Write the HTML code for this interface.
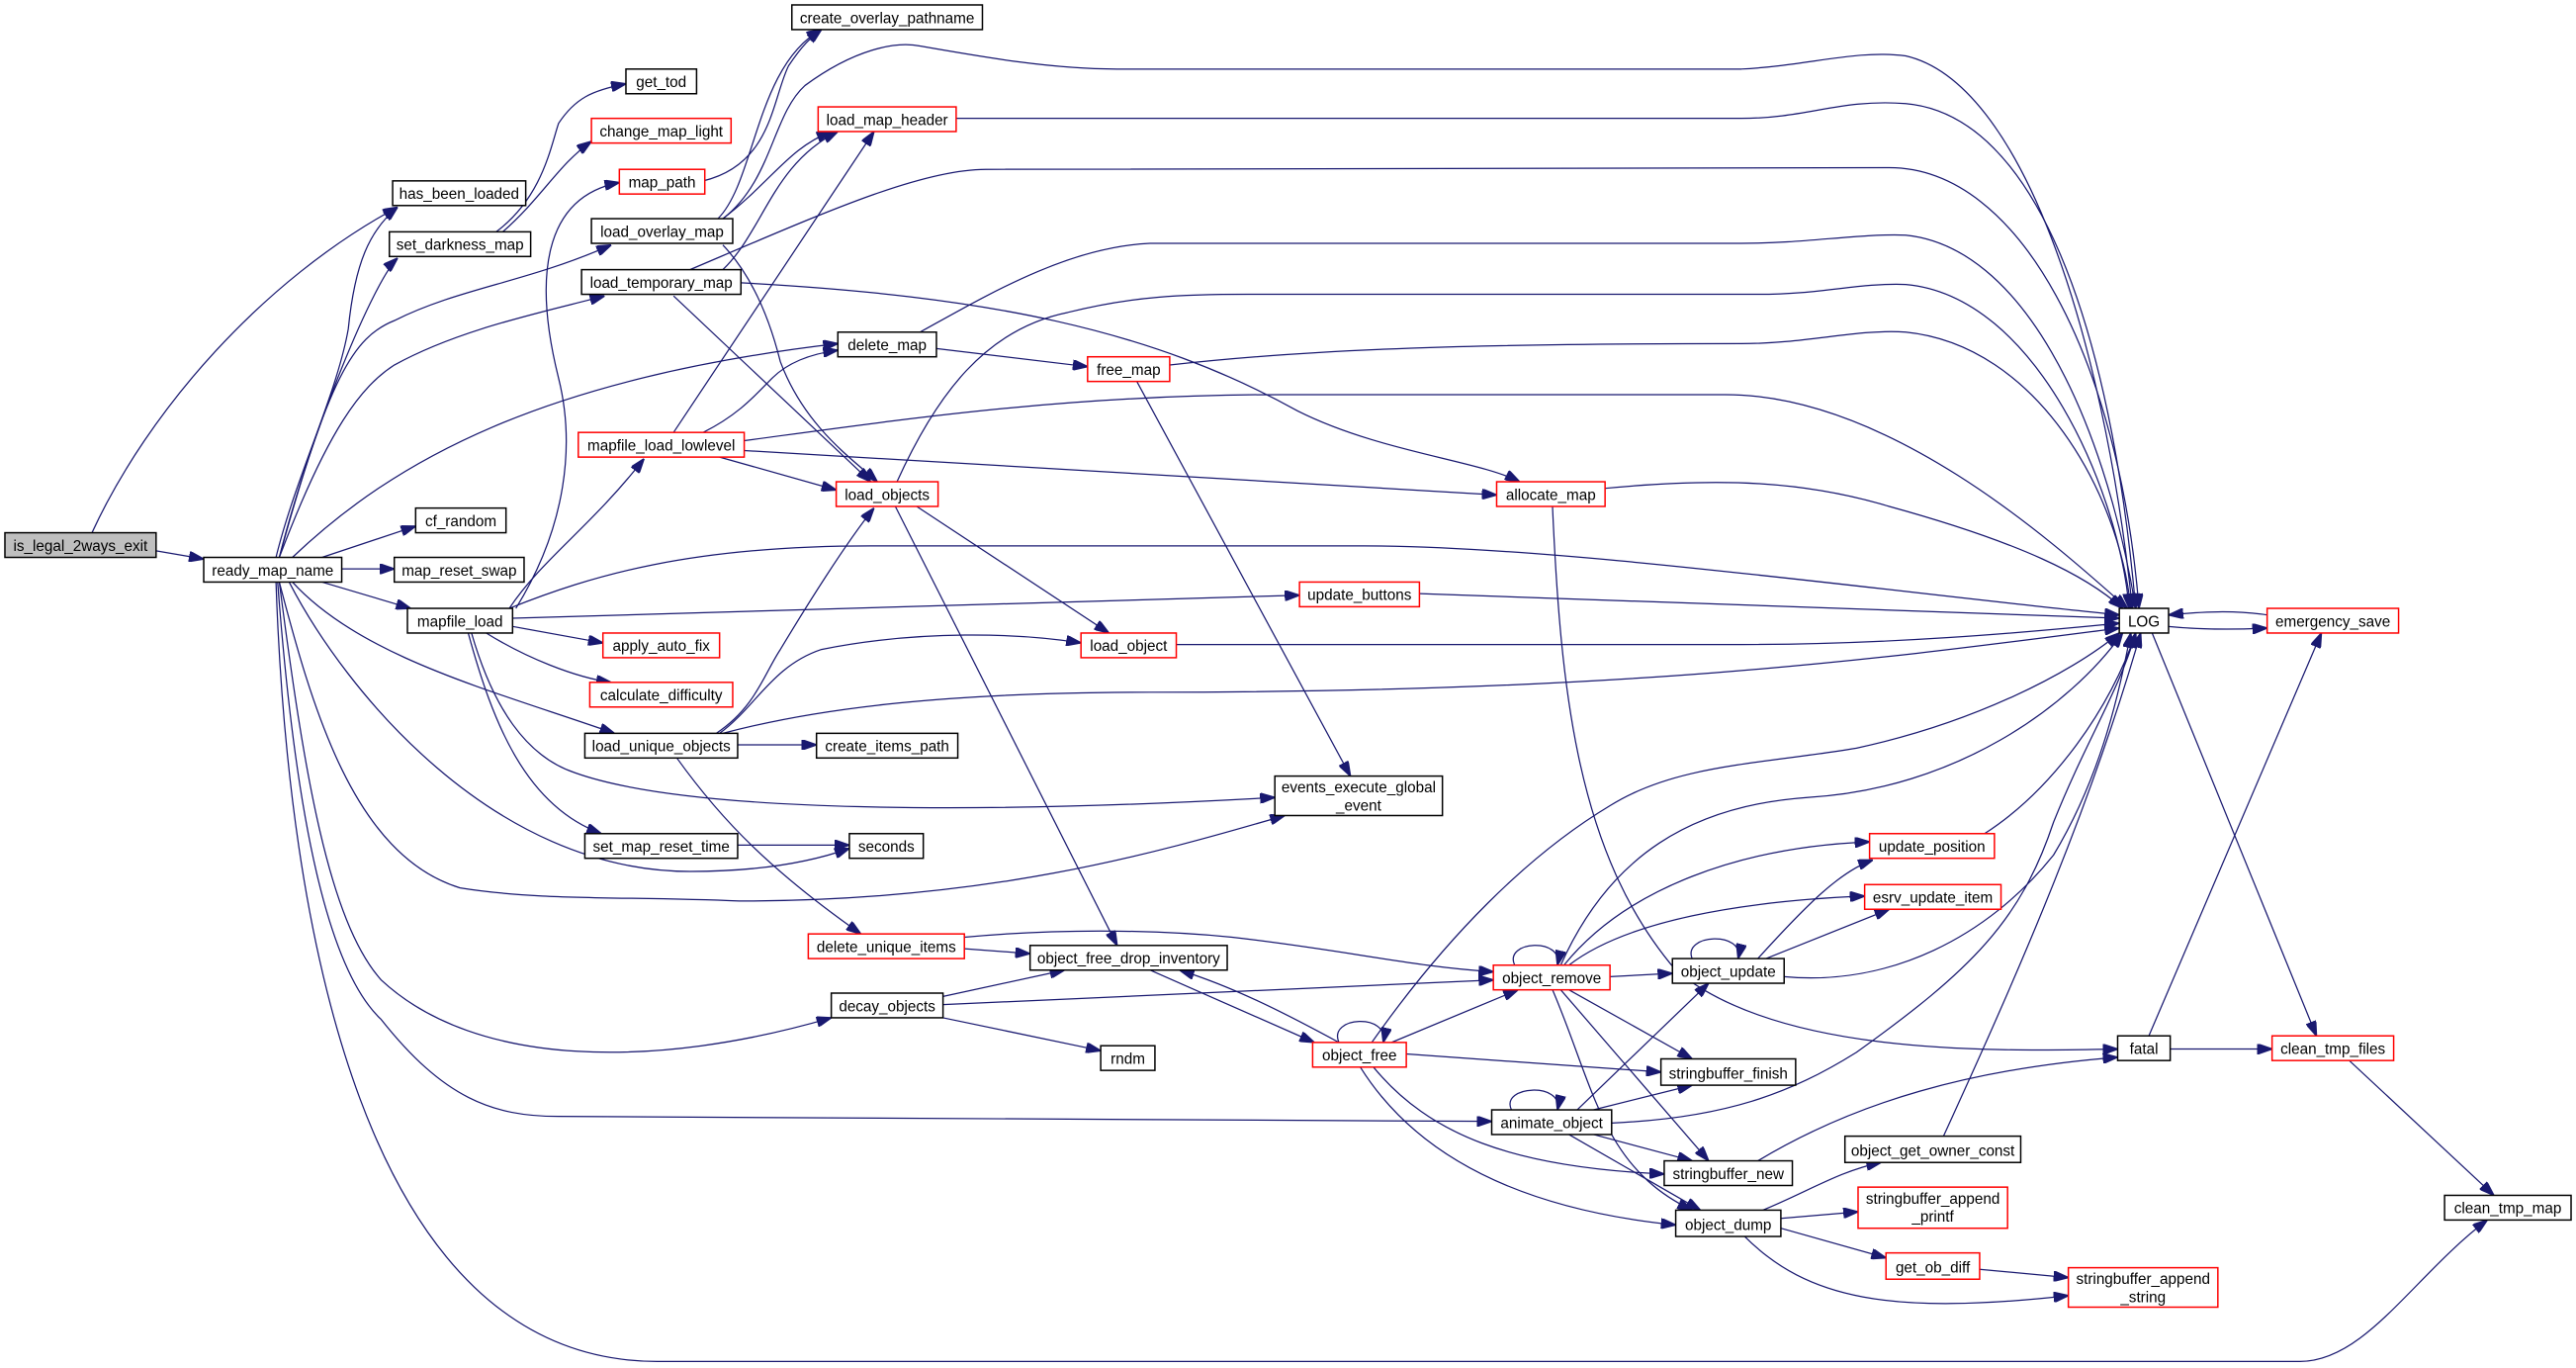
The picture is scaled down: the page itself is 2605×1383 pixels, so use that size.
<!DOCTYPE html>
<html><head><meta charset="utf-8"><style>
html,body{margin:0;padding:0;background:#fff;}
svg{display:block}
text{font-family:"Liberation Sans",sans-serif;font-size:9.2px;fill:#000}
.e{fill:none;stroke:#191970;stroke-width:0.75}
.n{fill:#fff;stroke:#000;stroke-width:0.9}
.r{fill:#fff;stroke:#ff0000;stroke-width:0.9}
</style></head><body>
<svg width="2605" height="1383" viewBox="0 0 1568 832" preserveAspectRatio="none" xmlns="http://www.w3.org/2000/svg">
<defs><marker id="a" viewBox="0 0 10 7" refX="10" refY="3.5" markerWidth="9" markerHeight="6.3" markerUnits="userSpaceOnUse" orient="auto"><path d="M0,0 L10,3.5 L0,7 z" fill="#191970" stroke="#191970"/></marker></defs>
<g class="e" marker-end="url(#a)">
<path d="M56,324 C90,250 160,170 242,126"/>
<path d="M95,335 L124,340"/>
<path d="M168,339 C180,290 205,240 212,200 C216,160 225,140 242,126"/>
<path d="M170,339 C190,260 228,170 242,157"/>
<path d="M170,339 C200,230 215,205 240,195 C280,175 320,172 372,149"/>
<path d="M170,339 C200,260 220,235 240,222 C280,200 330,190 368,180"/>
<path d="M178,339 C240,280 330,230 510,209"/>
<path d="M196,339 L253,320"/>
<path d="M208,346 L240,346"/>
<path d="M196,354 L250,370"/>
<path d="M178,354 C220,400 300,420 374,446"/>
<path d="M176,354 C210,420 300,530 420,530 C470,530 500,522 517,516"/>
<path d="M170,354 C190,430 215,520 280,540 C330,548 380,545 450,548 C600,548 700,520 782,496"/>
<path d="M170,354 C185,470 200,560 232,596 C290,650 400,650 506,619"/>
<path d="M169,354 C180,500 200,590 232,620 C270,668 300,679 340,679 L908,682"/>
<path d="M168,354 C175,560 220,828 400,828 L1400,828 C1440,828 1470,775 1514,742"/>
<path d="M310,370 C360,350 420,332 530,332 L830,332 C950,332 1150,360 1290,374"/>
<path d="M312,376 L791,362"/>
<path d="M310,370 C330,340 360,320 392,279"/>
<path d="M314,370 C345,320 350,270 340,230 C325,170 330,120 377,111"/>
<path d="M312,381 L367,391"/>
<path d="M296,385 C320,400 350,412 372,415"/>
<path d="M285,385 C300,440 320,490 366,507"/>
<path d="M287,385 C300,430 320,460 350,470 C420,495 600,495 776,485"/>
<path d="M449,453 L497,453"/>
<path d="M436,446 C460,430 465,410 475,395 C490,370 515,330 532,309"/>
<path d="M438,446 C460,430 470,405 500,395 C560,383 620,385 658,391"/>
<path d="M440,446 C500,430 580,421 700,421 C1000,421 1150,400 1290,382"/>
<path d="M412,461 C440,500 470,530 524,568"/>
<path d="M449,514 L517,514"/>
<path d="M437,133 C460,110 460,40 500,18"/>
<path d="M440,133 C470,110 480,90 506,80"/>
<path d="M440,133 C470,110 470,70 490,52 C520,30 545,25 560,28 C600,35 640,42 680,42 L1060,42 C1100,40 1130,30 1160,34 C1230,50 1280,200 1298,370"/>
<path d="M582,72 L1060,72 C1100,72 1120,60 1160,63 C1240,70 1285,200 1300,370"/>
<path d="M440,164 C465,140 470,100 510,80"/>
<path d="M420,164 C500,130 560,103 600,103 L1150,102 C1230,102 1290,220 1302,370"/>
<path d="M451,172 C600,180 700,200 790,250 C840,275 900,280 925,293"/>
<path d="M410,180 L530,293"/>
<path d="M440,149 C460,170 470,200 475,220 C490,260 520,280 534,293"/>
<path d="M410,263 L532,80"/>
<path d="M428,263 C450,252 460,240 470,230 C480,220 495,215 510,213"/>
<path d="M438,278 L509,298"/>
<path d="M453,268 C550,255 650,240 780,240 L1050,240 C1150,240 1250,330 1295,370"/>
<path d="M453,274 L911,301"/>
<path d="M560,202 C600,180 650,150 700,148 L1060,148 C1100,148 1130,142 1160,143 C1230,150 1280,250 1300,370"/>
<path d="M570,212 L662,223"/>
<path d="M712,222 C800,212 900,209 1060,209 C1100,209 1130,200 1160,202 C1240,210 1290,300 1297,370"/>
<path d="M692,232 L822,472"/>
<path d="M546,293 C570,240 600,200 650,190 C690,180 720,179 760,179 L1070,179 C1110,179 1130,172 1160,173 C1240,180 1290,300 1296,370"/>
<path d="M558,308 L675,385"/>
<path d="M545,308 L680,575"/>
<path d="M716,392 L1060,392 C1150,392 1230,385 1290,379"/>
<path d="M977,297 C1050,290 1100,293 1150,308 C1230,330 1270,350 1292,370"/>
<path d="M945,308 C950,420 960,520 1020,590 C1080,640 1200,640 1289,638"/>
<path d="M864,361 L1290,376"/>
<path d="M1380,374 C1360,371 1340,372 1320,374"/>
<path d="M1320,381 C1340,383 1360,383 1380,382"/>
<path d="M1310,385 L1410,630"/>
<path d="M1308,630 L1413,385"/>
<path d="M1321,638 L1383,638"/>
<path d="M1430,645 L1518,727"/>
<path d="M587,577 L627,580"/>
<path d="M587,570 C640,565 700,565 750,570 C820,578 860,588 909,591"/>
<path d="M574,606 L648,590"/>
<path d="M574,611 L909,596"/>
<path d="M574,619 L670,639"/>
<path d="M700,590 L800,634"/>
<path d="M815,634 C780,615 750,600 718,590"/>
<path d="M815,634 C808,618 846,616 842,634"/>
<path d="M847,634 L924,602"/>
<path d="M835,634 C880,570 930,520 980,490 C1020,465 1070,465 1130,455 C1200,440 1260,410 1290,385"/>
<path d="M856,641 L1011,652"/>
<path d="M836,649 C870,690 920,710 1013,714"/>
<path d="M828,649 C860,700 920,735 1020,745"/>
<path d="M922,587 C915,572 952,570 948,587"/>
<path d="M950,587 C980,520 1030,490 1100,485 C1190,480 1260,430 1292,385"/>
<path d="M952,587 C990,540 1060,515 1138,512"/>
<path d="M955,587 C990,560 1060,548 1135,545"/>
<path d="M980,594 L1018,592"/>
<path d="M955,602 L1030,644"/>
<path d="M950,602 L1040,706"/>
<path d="M945,602 C970,660 975,710 1030,736"/>
<path d="M1030,583 C1024,568 1062,566 1058,583"/>
<path d="M1070,583 C1100,550 1120,530 1140,523"/>
<path d="M1075,583 L1150,553"/>
<path d="M1086,594 C1150,600 1210,570 1250,520 C1280,470 1290,420 1297,385"/>
<path d="M960,675 L1040,598"/>
<path d="M920,675 C913,660 952,658 948,675"/>
<path d="M970,675 L1030,660"/>
<path d="M970,690 L1030,706"/>
<path d="M955,690 L1035,736"/>
<path d="M981,683 C1050,680 1090,665 1130,640 C1200,590 1230,560 1250,500 C1270,450 1290,420 1300,385"/>
<path d="M1070,706 C1130,670 1200,650 1289,643"/>
<path d="M1183,691 C1220,610 1270,500 1303,385"/>
<path d="M1073,736 C1100,725 1120,712 1145,707"/>
<path d="M1084,741 L1131,737"/>
<path d="M1084,747 L1148,765"/>
<path d="M1062,752 C1100,790 1150,800 1259,788"/>
<path d="M1205,772 L1259,777"/>
<path d="M1208,507 C1250,480 1285,430 1300,385"/>
<path d="M302,141 C330,120 335,90 340,75 C350,60 360,55 381,51"/>
<path d="M306,141 C330,120 340,100 360,86"/>
<path d="M428,110 C470,100 470,60 480,40 C490,25 495,22 500,18"/>
</g>
<g>
<rect x="3" y="324" width="92" height="15" fill="#bfbfbf" stroke="#000" stroke-width="0.9"/><text x="49" y="335" text-anchor="middle">is_legal_2ways_exit</text>
<rect class="n" x="124" y="339" width="84" height="15"/><text x="166" y="350" text-anchor="middle">ready_map_name</text>
<rect class="n" x="239" y="110" width="81" height="15"/><text x="279.5" y="121" text-anchor="middle">has_been_loaded</text>
<rect class="n" x="237" y="141" width="86" height="15"/><text x="280" y="152" text-anchor="middle">set_darkness_map</text>
<rect class="n" x="381" y="42" width="43" height="15"/><text x="402.5" y="53" text-anchor="middle">get_tod</text>
<rect class="r" x="360" y="72" width="85" height="15"/><text x="402.5" y="83" text-anchor="middle">change_map_light</text>
<rect class="r" x="377" y="103" width="52" height="15"/><text x="403" y="114" text-anchor="middle">map_path</text>
<rect class="n" x="360" y="133" width="86" height="15"/><text x="403" y="144" text-anchor="middle">load_overlay_map</text>
<rect class="n" x="354" y="164" width="97" height="15"/><text x="402.5" y="175" text-anchor="middle">load_temporary_map</text>
<rect class="n" x="482" y="3" width="116" height="15"/><text x="540" y="14" text-anchor="middle">create_overlay_pathname</text>
<rect class="r" x="498" y="65" width="84" height="15"/><text x="540" y="76" text-anchor="middle">load_map_header</text>
<rect class="n" x="510" y="202" width="60" height="15"/><text x="540" y="213" text-anchor="middle">delete_map</text>
<rect class="r" x="662" y="217" width="50" height="15"/><text x="687" y="228" text-anchor="middle">free_map</text>
<rect class="r" x="352" y="263" width="101" height="15"/><text x="402.5" y="274" text-anchor="middle">mapfile_load_lowlevel</text>
<rect class="r" x="509" y="293" width="62" height="15"/><text x="540" y="304" text-anchor="middle">load_objects</text>
<rect class="n" x="253" y="309" width="55" height="15"/><text x="280.5" y="320" text-anchor="middle">cf_random</text>
<rect class="n" x="240" y="339" width="79" height="15"/><text x="279.5" y="350" text-anchor="middle">map_reset_swap</text>
<rect class="n" x="248" y="370" width="64" height="15"/><text x="280" y="381" text-anchor="middle">mapfile_load</text>
<rect class="r" x="367" y="385" width="71" height="15"/><text x="402.5" y="396" text-anchor="middle">apply_auto_fix</text>
<rect class="r" x="359" y="415" width="87" height="15"/><text x="402.5" y="426" text-anchor="middle">calculate_difficulty</text>
<rect class="n" x="356" y="446" width="93" height="15"/><text x="402.5" y="457" text-anchor="middle">load_unique_objects</text>
<rect class="n" x="497" y="446" width="86" height="15"/><text x="540" y="457" text-anchor="middle">create_items_path</text>
<rect class="n" x="356" y="507" width="93" height="15"/><text x="402.5" y="518" text-anchor="middle">set_map_reset_time</text>
<rect class="n" x="517" y="507" width="45" height="15"/><text x="539.5" y="518" text-anchor="middle">seconds</text>
<rect class="r" x="492" y="568" width="95" height="15"/><text x="539.5" y="579" text-anchor="middle">delete_unique_items</text>
<rect class="n" x="506" y="604" width="68" height="15"/><text x="540" y="615" text-anchor="middle">decay_objects</text>
<rect class="n" x="670" y="636" width="33" height="15"/><text x="686.5" y="647" text-anchor="middle">rndm</text>
<rect class="n" x="627" y="575" width="120" height="15"/><text x="687" y="586" text-anchor="middle">object_free_drop_inventory</text>
<rect class="n" x="776" y="472" width="102" height="24"/><text x="827" y="482" text-anchor="middle">events_execute_global</text><text x="827" y="493" text-anchor="middle">_event</text>
<rect class="r" x="791" y="354" width="73" height="15"/><text x="827.5" y="365" text-anchor="middle">update_buttons</text>
<rect class="r" x="911" y="293" width="66" height="15"/><text x="944" y="304" text-anchor="middle">allocate_map</text>
<rect class="r" x="658" y="385" width="58" height="15"/><text x="687" y="396" text-anchor="middle">load_object</text>
<rect class="n" x="1290" y="370" width="30" height="15"/><text x="1305" y="381" text-anchor="middle">LOG</text>
<rect class="r" x="1380" y="370" width="80" height="15"/><text x="1420" y="381" text-anchor="middle">emergency_save</text>
<rect class="r" x="1138" y="507" width="76" height="15"/><text x="1176" y="518" text-anchor="middle">update_position</text>
<rect class="r" x="1135" y="538" width="83" height="15"/><text x="1176.5" y="549" text-anchor="middle">esrv_update_item</text>
<rect class="r" x="909" y="587" width="71" height="15"/><text x="944.5" y="598" text-anchor="middle">object_remove</text>
<rect class="n" x="1018" y="583" width="68" height="15"/><text x="1052" y="594" text-anchor="middle">object_update</text>
<rect class="r" x="799" y="634" width="57" height="15"/><text x="827.5" y="645" text-anchor="middle">object_free</text>
<rect class="n" x="1011" y="644" width="82" height="16"/><text x="1052" y="656" text-anchor="middle">stringbuffer_finish</text>
<rect class="n" x="908" y="675" width="73" height="15"/><text x="944.5" y="686" text-anchor="middle">animate_object</text>
<rect class="n" x="1013" y="706" width="78" height="15"/><text x="1052" y="717" text-anchor="middle">stringbuffer_new</text>
<rect class="n" x="1123" y="691" width="107" height="16"/><text x="1176.5" y="703" text-anchor="middle">object_get_owner_const</text>
<rect class="n" x="1020" y="736" width="64" height="16"/><text x="1052" y="748" text-anchor="middle">object_dump</text>
<rect class="r" x="1131" y="722" width="91" height="25"/><text x="1176.5" y="732" text-anchor="middle">stringbuffer_append</text><text x="1176.5" y="743" text-anchor="middle">_printf</text>
<rect class="r" x="1148" y="762" width="57" height="16"/><text x="1176.5" y="774" text-anchor="middle">get_ob_diff</text>
<rect class="r" x="1259" y="771" width="91" height="24"/><text x="1304.5" y="781" text-anchor="middle">stringbuffer_append</text><text x="1304.5" y="792" text-anchor="middle">_string</text>
<rect class="n" x="1289" y="630" width="32" height="15"/><text x="1305" y="641" text-anchor="middle">fatal</text>
<rect class="r" x="1383" y="630" width="74" height="15"/><text x="1420" y="641" text-anchor="middle">clean_tmp_files</text>
<rect class="n" x="1488" y="727" width="77" height="15"/><text x="1526.5" y="738" text-anchor="middle">clean_tmp_map</text>
</g>
</svg>
</body></html>
